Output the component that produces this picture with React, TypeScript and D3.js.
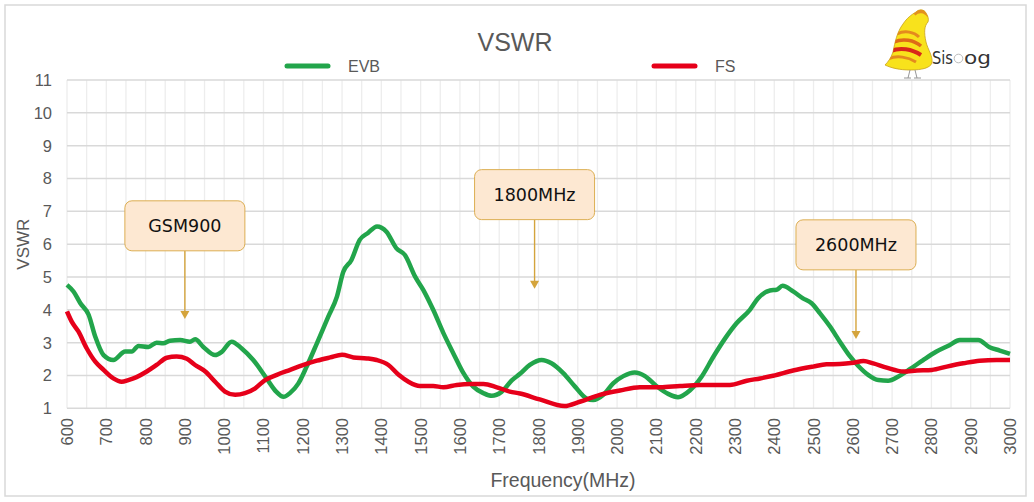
import React from 'react';
import * as d3 from 'd3';

// EVB curve (MHz, VSWR)
const evbFreq = [600, 617, 634, 655, 672, 693, 718, 748, 765, 782, 807, 828, 845, 862, 888, 913, 926, 947, 977, 994,
    1019, 1044, 1074, 1108, 1133, 1151, 1168, 1189, 1210, 1236, 1265, 1287, 1303, 1324, 1345, 1366, 1389, 1413, 1438, 1460,
    1486, 1507, 1532, 1558, 1583, 1609, 1634, 1660, 1681, 1706, 1732, 1753, 1778, 1808, 1833, 1863, 1893, 1922, 1939, 1965,
    1990, 2016, 2045, 2071, 2100, 2130, 2155, 2185, 2215, 2245, 2275, 2304, 2338, 2359, 2389, 2406, 2421, 2448, 2473, 2495,
    2516, 2542, 2567, 2593, 2614, 2639, 2665, 2690, 2716, 2745, 2779, 2813, 2847, 2872, 2894, 2919, 2948, 2974, 3000];
const evbVswr = [4.76, 4.55, 4.2, 3.85, 3.18, 2.62, 2.47, 2.73, 2.73, 2.9, 2.87, 3.0, 2.98, 3.06, 3.08, 3.03, 3.1, 2.87, 2.62, 2.72,
    3.03, 2.83, 2.47, 1.91, 1.5, 1.35, 1.47, 1.76, 2.27, 2.98, 3.79, 4.4, 5.15, 5.52, 6.13, 6.34, 6.54, 6.38, 5.88, 5.67,
    5.01, 4.6, 4.0, 3.29, 2.68, 2.07, 1.66, 1.46, 1.38, 1.5, 1.85, 2.05, 2.32, 2.47, 2.37, 2.07, 1.66, 1.3, 1.25, 1.41,
    1.76, 1.98, 2.09, 1.98, 1.68, 1.44, 1.34, 1.54, 1.96, 2.57, 3.13, 3.59, 4.0, 4.35, 4.59, 4.61, 4.73, 4.56, 4.35, 4.2,
    3.9, 3.49, 3.03, 2.58, 2.29, 2.02, 1.86, 1.84, 1.97, 2.19, 2.47, 2.73, 2.93, 3.08, 3.08, 3.08, 2.86, 2.76, 2.66];

// FS curve
const fsFreq = [600, 612, 629, 650, 672, 693, 718, 739, 756, 777, 803, 828, 854, 879, 905, 926, 952, 977, 1002, 1028,
    1053, 1079, 1104, 1134, 1168, 1202, 1236, 1270, 1300, 1329, 1363, 1388, 1418, 1444, 1469, 1498, 1532, 1558, 1592, 1626,
    1660, 1694, 1727, 1753, 1803, 1866, 1905, 1956, 2007, 2058, 2109, 2160, 2211, 2262, 2287, 2330, 2364, 2397, 2448, 2499,
    2533, 2567, 2601, 2627, 2652, 2686, 2729, 2763, 2801, 2839, 2881, 2923, 2966, 3000];
const fsVswr = [3.95, 3.64, 3.34, 2.83, 2.42, 2.17, 1.91, 1.81, 1.86, 1.95, 2.12, 2.32, 2.54, 2.58, 2.51, 2.32, 2.12, 1.81, 1.51, 1.41,
    1.46, 1.61, 1.86, 2.02, 2.17, 2.32, 2.45, 2.55, 2.63, 2.55, 2.52, 2.47, 2.32, 2.02, 1.81, 1.68, 1.68, 1.64, 1.71, 1.74,
    1.74, 1.64, 1.51, 1.45, 1.27, 1.07, 1.2, 1.41, 1.54, 1.64, 1.64, 1.68, 1.71, 1.71, 1.71, 1.84, 1.91, 1.99, 2.15, 2.27,
    2.34, 2.35, 2.39, 2.44, 2.37, 2.24, 2.12, 2.15, 2.17, 2.27, 2.37, 2.45, 2.47, 2.47];

const xTicks = [600, 700, 800, 900, 1000, 1100, 1200, 1300, 1400, 1500, 1600, 1700, 1800, 1900, 2000, 2100, 2200, 2300, 2400,
    2500, 2600, 2700, 2800, 2900, 3000];
const yTicks = [1, 2, 3, 4, 5, 6, 7, 8, 9, 10, 11];

// callouts: text, frequency of the arrow, value of the arrow tip, value of box top
const noteLabels = ['GSM900', '1800MHz', '2600MHz'];
const noteFreq = [900, 1790, 2608];
const noteTip = [3.72, 4.64, 3.11];
const noteTop = [7.32, 8.27, 6.74];

const GREEN = '#22a54b';
const RED = '#e6001a';
const TXT = '#595959';

const W = 1034;
const H = 502;

const BIRD = 'M916 12 C919 9 924 9 926 13 C928 16 929 19 928 22 C924 26 924 33 926 42 C928 50 933 56 932 63 C930 68 922 70 910 70 C900 70 891 68 885 65 C888 62 891 58 893 52 C895 42 897 32 903 24 C907 18 911 15 916 12 Z';

const Logo: React.FC = () => (
    <g>
        <clipPath id="birdclip">
            <path d={BIRD} />
        </clipPath>
        <path d={BIRD} fill="#f8e21c" stroke="#c9a21a" strokeWidth="0.8" />
        <g clipPath="url(#birdclip)" fill="none">
            <path d="M914 14 C918 10 925 10 929 16" stroke="#e3901e" strokeWidth="4" />
            <path d="M897 34 C905 30 914 32 919 37" stroke="#e48a1e" strokeWidth="3" />
            <path d="M894 42 C903 38 914 40 921 46" stroke="#de6a18" strokeWidth="3.5" />
            <path d="M891 51 C900 47 912 49 921 55" stroke="#d8281a" strokeWidth="4" />
            <path d="M888 59 C897 55 908 57 916 62" stroke="#e48a1e" strokeWidth="3" />
        </g>
        <path d="M910 70 L908 78 M915 70 L917 78 M904 78 L911 78 M914 78 L921 78" stroke="#8a8a8a" strokeWidth="0.9" fill="none" />
        <text x={932} y={64} fontFamily="'DejaVu Sans', sans-serif" fontSize={17} fill="#333" textLength={21} lengthAdjust="spacingAndGlyphs">Sis</text>
        <circle cx={958.5} cy={58.5} r={4.3} fill="none" stroke="#aaa" strokeWidth="0.8" />
        <text x={964} y={64} fontFamily="'DejaVu Sans', sans-serif" fontSize={17} fill="#333" textLength={27} lengthAdjust="spacingAndGlyphs">og</text>
    </g>
);

const App: React.FC = () => {
    const x = d3.scaleLinear().domain([600, 3000]).range([67, 1010]);
    const y = d3.scaleLinear().domain([1, 11]).range([408.3, 80]);
    const minor = d3.range(600, 3001, 50);

    const line = d3.line<[number, number]>()
        .x(d => x(d[0]))
        .y(d => y(d[1]))
        .curve(d3.curveMonotoneX);

    const evb = evbFreq.map((f, i) => [f, evbVswr[i]] as [number, number]);
    const fs = fsFreq.map((f, i) => [f, fsVswr[i]] as [number, number]);

    const font = "'Liberation Sans', Arial, sans-serif";

    return (
        <svg width={W} height={H} style={{ position: 'absolute', left: 0, top: 0 }} fontFamily={font}>
            <rect x={0} y={0} width={W} height={H} fill="#fff" />
            <rect x={5} y={5} width={1021} height={491} fill="#fff" stroke="#d9d9d9" strokeWidth="1.5" />

            {/* grid */}
            <g stroke="#ededed" strokeWidth="1.3">
                {minor.map(f => <line key={f} x1={x(f)} x2={x(f)} y1={y(11)} y2={y(1)} />)}
            </g>
            <g stroke="#d9d9d9" strokeWidth="1.5">
                {yTicks.map(t => <line key={t} x1={x(600)} x2={x(3000)} y1={y(t)} y2={y(t)} />)}
            </g>

            {/* axis labels */}
            <g fill={TXT} fontSize={16.5}>
                {yTicks.map(t => (
                    <text key={t} x={52} y={y(t)} textAnchor="end" dominantBaseline="central">{t}</text>
                ))}
                {xTicks.map(t => (
                    <text key={t} transform={`translate(${x(t)},${418}) rotate(-90)`} textAnchor="end" dominantBaseline="central">{t}</text>
                ))}
            </g>
            <text transform={`translate(23,${y(6)}) rotate(-90)`} textAnchor="middle" dominantBaseline="central" fill={TXT} fontSize={17}>VSWR</text>
            <text x={563} y={487} textAnchor="middle" fill={TXT} fontSize={19.5}>Frequency(MHz)</text>

            {/* title and legend */}
            <text x={515} y={51} textAnchor="middle" fill={TXT} fontSize={25}>VSWR</text>
            <line x1={287} x2={328} y1={66} y2={66} stroke={GREEN} strokeWidth="5" strokeLinecap="round" />
            <text x={348} y={72} fill={TXT} fontSize={16}>EVB</text>
            <line x1={654} x2={695} y1={66} y2={66} stroke={RED} strokeWidth="5" strokeLinecap="round" />
            <text x={715} y={72} fill={TXT} fontSize={16}>FS</text>

            {/* series */}
            <path d={line(evb) ?? ''} fill="none" stroke={GREEN} strokeWidth="4.5" strokeLinejoin="round" />
            <path d={line(fs) ?? ''} fill="none" stroke={RED} strokeWidth="4.5" strokeLinejoin="round" />

            {/* callouts */}
            {noteLabels.map((lab, i) => {
                const cx = x(noteFreq[i]);
                const top = y(noteTop[i]);
                const tip = y(noteTip[i]);
                return (
                    <g key={lab}>
                        <line x1={cx} x2={cx} y1={top + 50} y2={tip - 6} stroke="#d4a43c" strokeWidth="1.4" />
                        <path d={`M${cx - 4.5},${tip - 8} L${cx + 4.5},${tip - 8} L${cx},${tip} Z`} fill="#d4a43c" />
                        <rect x={cx - 60} y={top} width={120} height={50} rx={7} fill="#fde8d2" stroke="#dcae52" strokeWidth="1" />
                        <text x={cx} y={top + 25} textAnchor="middle" dominantBaseline="central"
                            fontFamily="'Comic Sans MS', 'DejaVu Sans', sans-serif" fontSize={17.5} fill="#111">{lab}</text>
                    </g>
                );
            })}

            <Logo />
        </svg>
    );
};

export default App;
